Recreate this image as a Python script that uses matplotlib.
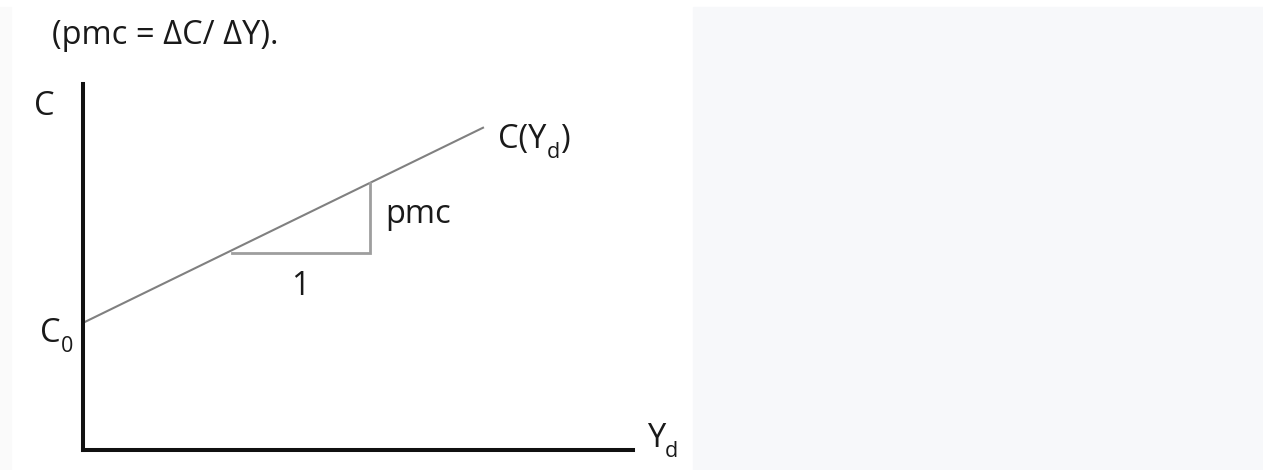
import matplotlib.pyplot as plt
from matplotlib.patches import Rectangle
from matplotlib.transforms import offset_copy

# Keynesian consumption function C(Yd) = C0 + pmc * Yd
yd_max = 10.0
c_max = 6.65
c0 = 2.31
pmc = 0.4875
yd_line = [0.0, 7.29]
c_line = [c0 + pmc * yd for yd in yd_line]
tri_yd = [2.71, 5.22]

plt.rcParams['font.family'] = ['Open Sans', 'DejaVu Sans']

W, H = 1263, 470
FS = 23.5
fig = plt.figure(figsize=(W / 100, H / 100), dpi=100)
fig.patch.set_facecolor('white')

# right side panel and thin strip at the left edge
fig.patches.append(Rectangle((693 / W, 0), (W - 693) / W, (H - 7) / H,
                             transform=fig.transFigure, color='#f7f8fa', zorder=0))
fig.patches.append(Rectangle((0, 0), 11 / W, (H - 7) / H,
                             transform=fig.transFigure, color='#fafafa', zorder=0))

fig.text(52 / W, 1 - 44 / H, '(pmc = \u0394C/ \u0394Y).', fontsize=FS,
         color='#1a1a1a', va='baseline', ha='left')

ax = fig.add_axes([83 / W, 20 / H, 550 / W, 366 / H])
ax.set_xlim(0, yd_max)
ax.set_ylim(0, c_max)
ax.patch.set_alpha(0)
for side in ['top', 'right']:
    ax.spines[side].set_visible(False)
for side in ['left', 'bottom']:
    ax.spines[side].set_linewidth(2.9)
    ax.spines[side].set_color('#111111')
ax.set_xticks([])
ax.set_yticks([])

ax.plot(yd_line, c_line, color='#808080', lw=1.5, solid_capstyle='butt')

# slope triangle: one unit across, pmc up
tri_c = [c0 + pmc * yd for yd in tri_yd]
base = tri_c[0] - 0.05
ax.plot([tri_yd[0], tri_yd[1], tri_yd[1]], [base, base, tri_c[1]],
        color='#9e9e9e', lw=2.0, solid_joinstyle='miter')

renderer = fig.canvas.get_renderer()


def label(x, y, parts, ha='left'):
    # parts: list of (text, is_subscript); laid out left to right on one baseline
    trans = ax.transData
    for s, sub in parts:
        kw = dict(color='#1a1a1a', va='baseline', ha=ha, clip_on=False)
        if sub:
            t = ax.text(x, y, s, fontsize=FS * 0.66,
                        transform=offset_copy(trans, fig, x=0, y=-7, units='points'), **kw)
        else:
            t = ax.text(x, y, s, fontsize=FS, transform=trans, **kw)
        bb = t.get_window_extent(renderer)
        trans = offset_copy(ax.transData, fig, x=bb.x1 - ax.transData.transform((x, y))[0],
                            y=0, units='dots')


def px(xp, yp):
    return (xp - 83) / 55, (450 - yp) / 55


label(*px(34, 115), [('C', False)])
label(*px(40, 342), [('C', False), ('0', True)])
label(*px(498, 148), [('C(Y', False), ('d', True), (')', False)])
label(*px(385, 223), [('pmc', False)])
label(*px(300, 295), [('1', False)], ha='center')
label(*px(647, 447), [('Y', False), ('d', True)])

fig.savefig('out.png', dpi=100)
